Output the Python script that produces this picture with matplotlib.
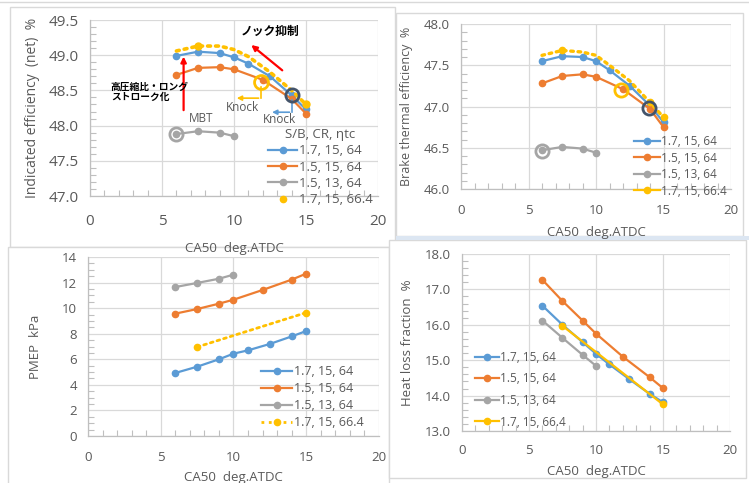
import matplotlib
matplotlib.use("Agg")
import matplotlib.pyplot as plt
from matplotlib.lines import Line2D
from matplotlib.patches import Rectangle
from matplotlib.ticker import MultipleLocator

plt.rcParams['font.family'] = ['Open Sans', 'DejaVu Sans']
JP = ['Noto Sans CJK JP', 'DejaVu Sans']

# CA50 positions of each series
x_blue = [6, 7.5, 9, 10, 11, 12.5, 14, 15]
x_orange = [6, 7.5, 9, 10, 12, 14, 15]
x_gray = [6, 7.5, 9, 10]
x_yel_curve = [6, 7.5, 9, 10, 11, 12.5, 14, 15]
x_yel = [7.5, 15]

# indicated efficiency (net) %
ind_blue = [48.99, 49.05, 49.03, 48.97, 48.88, 48.70, 48.43, 48.23]
ind_orange = [48.72, 48.82, 48.83, 48.80, 48.65, 48.38, 48.17]
ind_gray = [47.88, 47.92, 47.90, 47.85]
ind_yellow = [49.06, 49.13, 49.13, 49.08, 48.98, 48.76, 48.50, 48.30]

# brake thermal efficiency %
bte_blue = [47.55, 47.61, 47.60, 47.55, 47.44, 47.25, 47.01, 46.81]
bte_orange = [47.28, 47.37, 47.39, 47.36, 47.21, 46.97, 46.75]
bte_gray = [46.47, 46.51, 46.49, 46.44]
bte_yellow = [47.62, 47.68, 47.66, 47.62, 47.50, 47.31, 47.05, 46.87]

# PMEP kPa
pmep_blue = [4.93, 5.42, 6.00, 6.44, 6.70, 7.20, 7.79, 8.21]
pmep_orange = [9.57, 9.93, 10.35, 10.66, 11.42, 12.23, 12.70]
pmep_gray = [11.65, 11.97, 12.30, 12.62]
pmep_yellow = [6.96, 9.65]

# heat loss fraction %
hl_blue = [16.54, 16.00, 15.51, 15.18, 14.88, 14.46, 14.05, 13.81]
hl_orange = [17.27, 16.67, 16.12, 15.75, 15.10, 14.52, 14.21]
hl_gray = [16.12, 15.63, 15.15, 14.84]
hl_yellow = [15.97, 13.75]

labels = ["1.7, 15, 64", "1.5, 15, 64", "1.5, 13, 64", "1.7, 15, 66.4"]

BLUE, ORANGE, GRAY, YELLOW = "#5B9BD5", "#ED7D31", "#A5A5A5", "#FFC000"
DARKBLUE = "#44546A"
TXT = "#595959"
GRID = "#D9D9D9"

W, H = 749, 483
fig = plt.figure(figsize=(W / 100, H / 100), dpi=100)


def px(x0, y0, x1, y1):
    # pixel box (from top-left) -> figure fraction rect
    return [x0 / W, 1 - y1 / H, (x1 - x0) / W, (y1 - y0) / H]


# panel frames
for x0, y0, x1, y1 in [(10, 7, 395, 247), (396, 13, 743, 236),
                       (8, 247, 389, 490), (389, 240, 746, 478)]:
    fig.patches.append(Rectangle((x0 / W, 1 - y1 / H), (x1 - x0) / W, (y1 - y0) / H,
                                 transform=fig.transFigure, fc="white",
                                 ec="#D9D9D9", lw=1.0, zorder=-5))
fig.patches.append(Rectangle((396 / W, 1 - 240 / H), 353 / W, 4 / H,
                             transform=fig.transFigure, fc="#DCE6F2", ec="none", zorder=-5))
fig.add_artist(Line2D([0, 1], [1 - 1.5 / H, 1 - 1.5 / H], color="#D9D9D9", lw=1, zorder=-5))


def style(ax, ylim, ymajor, yminor, fs, fmt=None, xpad=8):
    ax.set_xlim(0, 20)
    ax.set_ylim(*ylim)
    ax.xaxis.set_major_locator(MultipleLocator(5))
    ax.xaxis.set_minor_locator(MultipleLocator(1))
    ax.yaxis.set_major_locator(MultipleLocator(ymajor))
    ax.yaxis.set_minor_locator(MultipleLocator(yminor))
    if fmt:
        ax.yaxis.set_major_formatter(fmt)
    ax.grid(True, which="major", color=GRID, lw=0.9)
    ax.set_axisbelow(True)
    for s in ["top", "right"]:
        ax.spines[s].set_visible(False)
    for s in ["left", "bottom"]:
        ax.spines[s].set_color("#BFBFBF")
        ax.spines[s].set_linewidth(0.9)
    ax.tick_params(which="major", length=0, labelsize=fs, labelcolor=TXT, pad=8)
    ax.tick_params(axis="x", which="major", pad=xpad)
    ax.tick_params(which="minor", length=4, direction="in", color="#BFBFBF", width=0.8)
    ax.set_facecolor("none")


def series(ax, yb, yo, yg):
    kw = dict(marker="o", ms=4.5, lw=1.6)
    ax.plot(x_blue, yb, color=BLUE, **kw)
    ax.plot(x_orange, yo, color=ORANGE, **kw)
    ax.plot(x_gray, yg, color=GRAY, **kw)


def handles(yel_style):
    kw = dict(marker="o", ms=4.5, lw=1.6)
    h = [Line2D([], [], color=c, **kw) for c in (BLUE, ORANGE, GRAY)]
    if yel_style == "none":
        h.append(Line2D([], [], color=YELLOW, marker="o", ms=4.5, lw=0))
    elif yel_style == "dot":
        h.append(Line2D([], [], color=YELLOW, marker="o", ms=4.5, lw=2, ls=":"))
    else:
        h.append(Line2D([], [], color=YELLOW, **kw))
    return h


def ring(ax, x, y, color, ms=10):
    ax.plot([x], [y], marker="o", ms=ms, mfc="none", mec=color, mew=2.0, zorder=5)


fmt1 = matplotlib.ticker.FormatStrFormatter("%.1f")

# ---- top-left: indicated efficiency
ax1 = fig.add_axes(px(90, 20, 378, 196))
style(ax1, (47.0, 49.5), 0.5, 0.1, 11, fmt1, xpad=13)
series(ax1, ind_blue, ind_orange, ind_gray)
ax1.plot(x_yel_curve, ind_yellow, color=YELLOW, lw=2.6, ls=(0, (0.8, 1.4)),
         dash_capstyle="round", marker="o", ms=5, markevery=[1, 7])
ax1.set_ylabel("Indicated efficiency  (net)  %", fontsize=10, color=TXT, labelpad=6)
ax1.set_xlabel("CA50  deg.ATDC", fontsize=9.5, color=TXT, labelpad=9)
ring(ax1, 11.85, 48.62, YELLOW, 10)
ring(ax1, 14.0, 48.43, DARKBLUE, 9.5)
ring(ax1, 5.95, 47.88, GRAY, 9.5)
# knock markers
ax1.plot([11.85, 11.85], [48.55, 48.39], color=YELLOW, lw=1.2)
ax1.annotate("", xy=(10.0, 48.39), xytext=(11.9, 48.39),
             arrowprops=dict(arrowstyle="-|>", color=YELLOW, lw=1.2, mutation_scale=7))
ax1.text(10.6, 48.26, "Knock", fontsize=8.5, color=TXT, ha="center", va="center")
ax1.plot([14.0, 14.0], [48.37, 48.19], color=BLUE, lw=1.2)
ax1.annotate("", xy=(12.45, 48.19), xytext=(14.05, 48.19),
             arrowprops=dict(arrowstyle="-|>", color=BLUE, lw=1.2, mutation_scale=7))
ax1.text(13.15, 48.08, "Knock", fontsize=8.5, color=TXT, ha="center", va="center")
# red arrows and japanese notes
ax1.annotate("", xy=(6.5, 49.02), xytext=(6.5, 48.18),
             arrowprops=dict(arrowstyle="-|>", color="red", lw=1.6, mutation_scale=8))
ax1.text(6.85, 48.1, "MBT", fontsize=8.5, color=TXT, ha="left", va="center")
ax1.annotate("", xy=(11.05, 49.17), xytext=(13.5, 48.76),
             arrowprops=dict(arrowstyle="-|>", color="red", lw=1.6, mutation_scale=8))
ax1.text(10.45, 49.34, "ノック抑制", fontsize=8.5, fontweight="bold", family=JP,
         ha="left", va="center", color="black")
ax1.text(1.45, 48.48, "高圧縮比・ロング\nストローク化", fontsize=7, fontweight="bold",
         family=JP, ha="left", va="center", color="black", linespacing=1.1)
leg = ax1.legend(handles(""), labels, loc="upper left",
                 bbox_to_anchor=(268 / W, 1 - 128 / H), bbox_transform=fig.transFigure,
                 frameon=False, fontsize=9.5, title="S/B, CR, ηtc", title_fontsize=9.5,
                 handlelength=2.2, handletextpad=0.15, labelspacing=0.25,
                 borderaxespad=0, borderpad=0)
leg.legend_handles[3].set_linewidth(0)
leg.get_title().set_color(TXT)
for t in leg.get_texts():
    t.set_color(TXT)

# ---- top-right: brake thermal efficiency
ax2 = fig.add_axes(px(461, 24, 731, 189))
style(ax2, (46.0, 48.0), 0.5, 0.1, 9.5, fmt1, xpad=11)
series(ax2, bte_blue, bte_orange, bte_gray)
ax2.plot(x_yel_curve, bte_yellow, color=YELLOW, lw=2.4, ls=(0, (0.8, 1.4)),
         dash_capstyle="round", marker="o", ms=4.5, markevery=[1, 6, 7])
ring(ax2, 11.85, 47.2, YELLOW, 9.5)
ring(ax2, 13.95, 46.98, DARKBLUE, 9.5)
ring(ax2, 6.0, 46.46, GRAY, 9.5)
ax2.set_ylabel("Brake thermal efficiency  %", fontsize=9, color=TXT, labelpad=8)
ax2.set_xlabel("CA50  deg.ATDC", fontsize=9.5, color=TXT, labelpad=6)
leg = ax2.legend(handles("solid"), labels, loc="upper left",
                 bbox_to_anchor=(634 / W, 1 - 135 / H), bbox_transform=fig.transFigure,
                 frameon=False, fontsize=8.5, handlelength=2.2, handletextpad=0.1,
                 labelspacing=0.3, borderaxespad=0, borderpad=0)
for t in leg.get_texts():
    t.set_color(TXT)

# ---- bottom-left: PMEP
ax3 = fig.add_axes(px(88, 257, 379, 436))
style(ax3, (0, 14), 2, 0.5, 9.5, xpad=11)
series(ax3, pmep_blue, pmep_orange, pmep_gray)
ax3.plot(x_yel, pmep_yellow, color=YELLOW, lw=2.0, ls=(0, (1, 1.5)),
         dash_capstyle="round", marker="o", ms=4.5)
ax3.set_ylabel("PMEP  kPa", fontsize=9.5, color=TXT, labelpad=14)
ax3.set_xlabel("CA50  deg.ATDC", fontsize=9.5, color=TXT, labelpad=5)
leg = ax3.legend(handles("dot"), labels, loc="upper left",
                 bbox_to_anchor=(261 / W, 1 - 365 / H), bbox_transform=fig.transFigure,
                 frameon=False, fontsize=9, handlelength=2.5, handletextpad=0.15,
                 labelspacing=0.32, borderaxespad=0, borderpad=0)
for t in leg.get_texts():
    t.set_color(TXT)

# ---- bottom-right: heat loss fraction
ax4 = fig.add_axes(px(462, 254, 730, 431))
style(ax4, (13.0, 18.0), 1.0, 0.2, 9.5, fmt1, xpad=9)
series(ax4, hl_blue, hl_orange, hl_gray)
ax4.plot(x_yel, hl_yellow, color=YELLOW, lw=1.6, marker="o", ms=4.5)
ax4.set_ylabel("Heat loss fraction  %", fontsize=9.5, color=TXT, labelpad=8)
ax4.set_xlabel("CA50  deg.ATDC", fontsize=9.5, color=TXT, labelpad=6)
leg = ax4.legend(handles("solid"), labels, loc="upper left",
                 bbox_to_anchor=(475 / W, 1 - 351 / H), bbox_transform=fig.transFigure,
                 frameon=False, fontsize=8.5, handlelength=2.0, handletextpad=0.1,
                 labelspacing=0.72, borderaxespad=0, borderpad=0)
for t in leg.get_texts():
    t.set_color(TXT)

fig.savefig("out.png", dpi=100)
